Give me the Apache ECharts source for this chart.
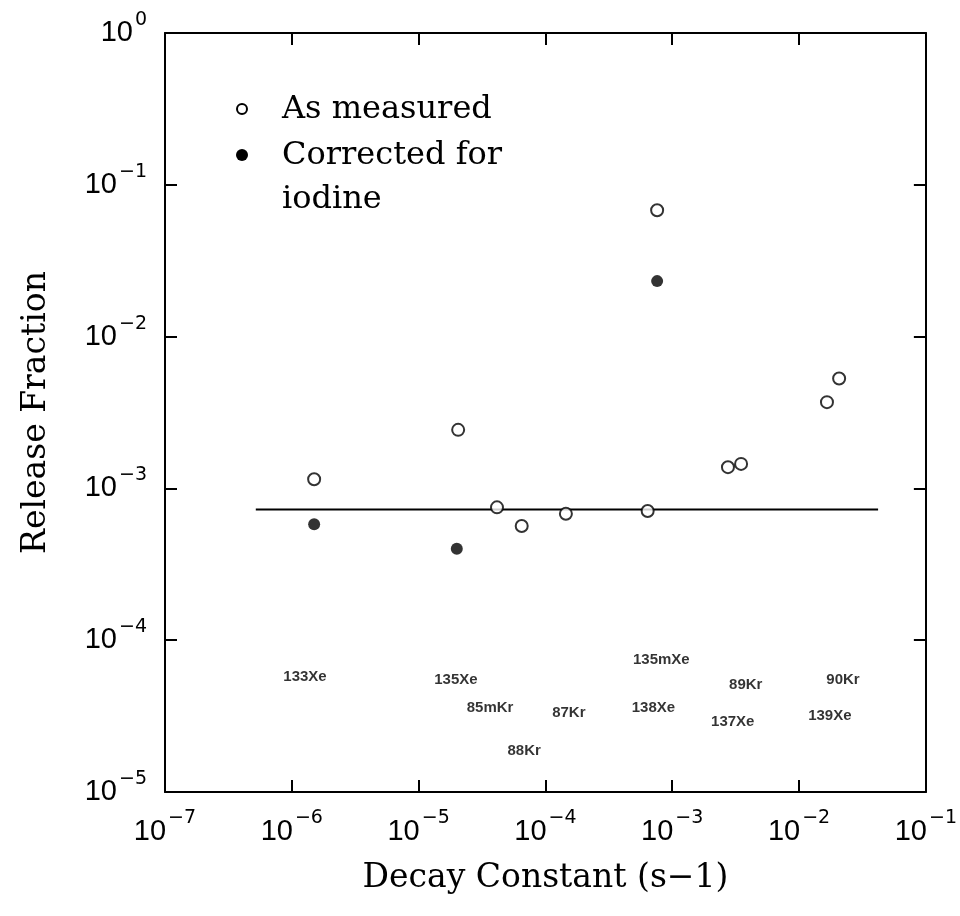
<!DOCTYPE html>
<html>
<head>
<meta charset="utf-8">
<script src="https://cdn.jsdelivr.net/npm/echarts@6/dist/echarts.min.js"></script>
<style>
  html, body { margin: 0; padding: 0; background: #fff; }
  #chart { width: 960px; height: 916px; }
</style>
</head>
<body>
<div id="chart"></div>
<script>
// Release fraction vs. decay constant for noble-gas nuclides (log-log)

// As measured: [decay constant (1/s), release fraction]
const measured = [
  [1.5e-6, 1.15e-3],
  [2.05e-5, 2.43e-3],
  [4.15e-5, 7.5e-4],
  [6.5e-5, 5.65e-4],
  [1.45e-4, 6.8e-4],
  [6.4e-4, 7.1e-4],
  [7.6e-4, 6.8e-2],
  [2.75e-3, 1.38e-3],
  [3.49e-3, 1.45e-3],
  [1.66e-2, 3.7e-3],
  [2.07e-2, 5.3e-3]
];

// Corrected for iodine precursor contribution
const corrected = [
  [1.5e-6, 5.8e-4],
  [2.0e-5, 4.0e-4],
  [7.6e-4, 2.32e-2]
];

// Mean release fraction line
const meanLevel = 7.25e-4;
const meanRange = [5.2e-7, 4.2e-2];

// Nuclide identifiers placed near the bottom of the plot
const nuclideNames = ['133Xe', '135Xe', '85mKr', '87Kr', '88Kr', '135mXe', '138Xe', '89Kr', '137Xe', '90Kr', '139Xe'];
const nuclideX = [1.27e-6, 1.97e-5, 3.66e-5, 1.53e-4, 6.8e-5, 8.2e-4, 7.1e-4, 3.8e-3, 3.0e-3, 2.22e-2, 1.75e-2];
const nuclideY = [5.7e-5, 5.5e-5, 3.57e-5, 3.3e-5, 1.86e-5, 7.4e-5, 3.57e-5, 5.07e-5, 2.89e-5, 5.47e-5, 3.17e-5];

// Axis ranges (decades)
const xRange = [1e-7, 1e-1];
const yRange = [1e-5, 1e0];

const chart = echarts.init(document.getElementById('chart'), null, { renderer: 'canvas' });

function powLabel(v) {
  const e = Math.round(Math.log10(v));
  const s = e < 0 ? '\u2212' + (-e) : String(e);
  return '{b|10}{s|' + s + '}';
}

const tickRich = {
  b: { fontFamily: 'Liberation Sans', fontSize: 29, lineHeight: 29, color: '#000', verticalAlign: 'bottom' },
  s: { fontFamily: 'DejaVu Sans', fontSize: 19, lineHeight: 19, color: '#000', verticalAlign: 'bottom', padding: [0, 0, 18, 2] }
};

const frameLine = { show: true, onZero: false, lineStyle: { color: '#000', width: 2 } };
const frameTick = { show: true, inside: true, length: 12, lineStyle: { color: '#000', width: 2 } };

const serif = 'DejaVu Serif';

chart.setOption({
  animation: false,
  backgroundColor: '#fff',
  grid: { left: 165, right: 34, top: 33, bottom: 124, containLabel: false },
  xAxis: [
    {
      type: 'log', logBase: 10, min: xRange[0], max: xRange[1], splitNumber: 6,
      position: 'bottom',
      axisLine: frameLine, axisTick: frameTick, splitLine: { show: false }, minorTick: { show: false },
      axisLabel: { margin: 25, formatter: powLabel, rich: tickRich },
      name: 'Decay Constant (s\u22121)', nameLocation: 'middle', nameGap: 70,
      nameTextStyle: { fontFamily: serif, fontSize: 33, color: '#000' }
    },
    {
      type: 'log', logBase: 10, min: xRange[0], max: xRange[1], splitNumber: 6,
      position: 'top',
      axisLine: frameLine, axisTick: frameTick, splitLine: { show: false },
      axisLabel: { show: false }
    }
  ],
  yAxis: [
    {
      type: 'log', logBase: 10, min: yRange[0], max: yRange[1], splitNumber: 5,
      position: 'left',
      axisLine: frameLine, axisTick: frameTick, splitLine: { show: false }, minorTick: { show: false },
      axisLabel: { margin: 18, formatter: powLabel, rich: tickRich },
      name: 'Release Fraction', nameLocation: 'middle', nameGap: 112, nameRotate: 90,
      nameTextStyle: { fontFamily: serif, fontSize: 33, color: '#000' }
    },
    {
      type: 'log', logBase: 10, min: yRange[0], max: yRange[1], splitNumber: 5,
      position: 'right',
      axisLine: frameLine, axisTick: frameTick, splitLine: { show: false },
      axisLabel: { show: false }
    }
  ],
  series: [
    {
      name: 'Mean', type: 'line', xAxisIndex: 0, yAxisIndex: 0,
      data: [[meanRange[0], meanLevel], [meanRange[1], meanLevel]],
      symbol: 'none', lineStyle: { color: '#000', width: 2 }, z: 2, silent: true
    },
    {
      name: 'As measured', type: 'scatter', xAxisIndex: 0, yAxisIndex: 0,
      data: measured, symbol: 'circle', symbolSize: 12,
      itemStyle: { color: '#fff', borderColor: '#000', borderWidth: 2 }, z: 3
    },
    {
      name: 'Corrected for iodine', type: 'scatter', xAxisIndex: 0, yAxisIndex: 0,
      data: corrected, symbol: 'circle', symbolSize: 12,
      itemStyle: { color: '#000' }, z: 3
    },
    {
      name: 'Nuclides', type: 'scatter', xAxisIndex: 0, yAxisIndex: 0,
      symbolSize: 0, silent: true,
      data: nuclideNames.map((n, i) => ({ name: n, value: [nuclideX[i], nuclideY[i]] })),
      label: {
        show: true, position: 'inside', formatter: '{b}',
        fontFamily: 'Liberation Sans', fontWeight: 'bold', fontSize: 15, color: '#000'
      }
    }
  ],
  graphic: [
    { type: 'circle', shape: { cx: 242, cy: 109, r: 5 }, style: { fill: '#fff', stroke: '#000', lineWidth: 2 } },
    { type: 'text', x: 282, y: 110, style: { text: 'As measured', font: '32px "DejaVu Serif"', fill: '#000', verticalAlign: 'middle' } },
    { type: 'circle', shape: { cx: 242, cy: 155, r: 6 }, style: { fill: '#000' } },
    { type: 'text', x: 282, y: 156, style: { text: 'Corrected for', font: '32px "DejaVu Serif"', fill: '#000', verticalAlign: 'middle' } },
    { type: 'text', x: 282, y: 200, style: { text: 'iodine', font: '32px "DejaVu Serif"', fill: '#000', verticalAlign: 'middle' } }
  ]
});
</script>
</body>
</html>
